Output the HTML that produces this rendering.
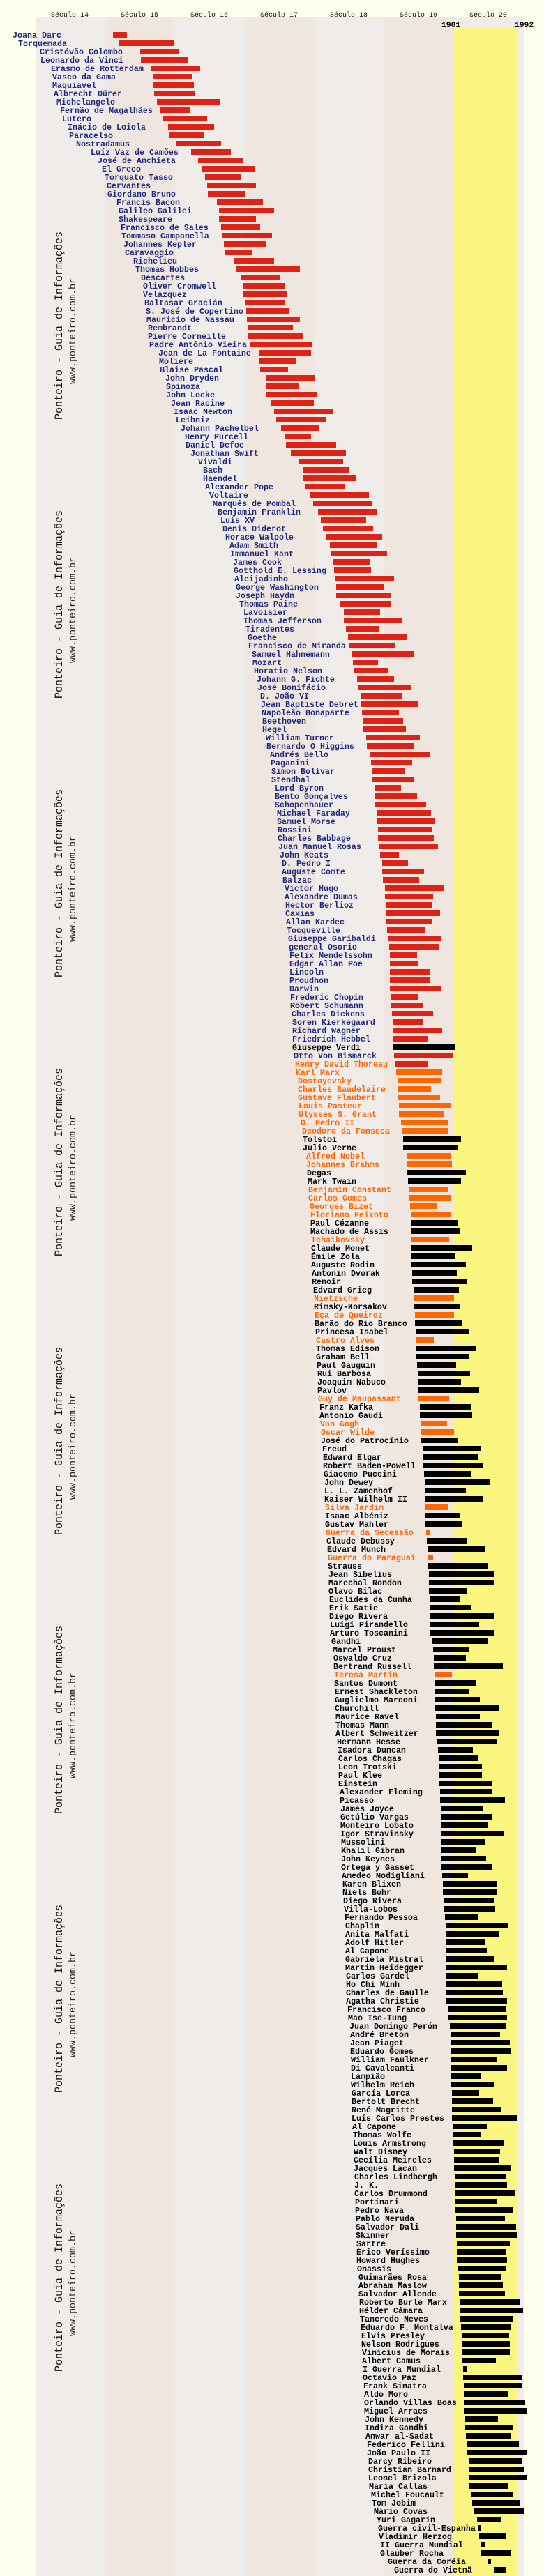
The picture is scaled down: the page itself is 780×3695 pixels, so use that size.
<!DOCTYPE html>
<html><head><meta charset="utf-8"><style>
html,body{margin:0;padding:0;background:#ffffee;}
svg{display:block}
.L text{font-family:"Liberation Mono","DejaVu Sans Mono",monospace;font-weight:bold;font-size:11.67px;fill:#1f2a80}
.L text.o{fill:#ff6600}.L text.k{fill:#000}
.H{font-family:"Liberation Mono","DejaVu Sans Mono",monospace;font-size:10px;fill:#111}
.Y{font-family:"Liberation Mono","DejaVu Sans Mono",monospace;font-size:11.3px;font-weight:bold;fill:#000}
.W1{font-family:"Liberation Mono","DejaVu Sans Mono",monospace;font-size:16px;fill:#111}
.W2{font-family:"Liberation Mono","DejaVu Sans Mono",monospace;font-size:13.5px;fill:#222}
</style></head><body>
<svg width="780" height="3695" viewBox="0 0 780 3695" xmlns="http://www.w3.org/2000/svg">
<rect x="0" y="0" width="780" height="3695" fill="#ffffee"/>
<rect x="51" y="25" width="100" height="3670" fill="#f0ecea"/>
<rect x="151" y="25" width="100" height="3670" fill="#efe6e0"/>
<rect x="251" y="25" width="100" height="3670" fill="#f0ecea"/>
<rect x="351" y="25" width="100" height="3670" fill="#efe6e0"/>
<rect x="451" y="25" width="100" height="3670" fill="#f0ecea"/>
<rect x="551" y="25" width="100" height="3670" fill="#efe6e0"/>
<rect x="651" y="25" width="100" height="3670" fill="#f0ecea"/>
<rect x="651" y="40" width="92" height="3655" fill="#faf680"/>
<text class="H" x="73" y="24">Século 14</text>
<text class="H" x="173" y="24">Século 15</text>
<text class="H" x="273" y="24">Século 16</text>
<text class="H" x="373" y="24">Século 17</text>
<text class="H" x="473" y="24">Século 18</text>
<text class="H" x="573" y="24">Século 19</text>
<text class="H" x="673" y="24">Século 20</text>
<text class="Y" x="633" y="39">1901</text>
<text class="Y" x="738" y="39">1992</text>
<g>
<text class="W1" transform="translate(89 467) rotate(-90)" text-anchor="middle" textLength="270" lengthAdjust="spacingAndGlyphs">Ponteiro - Guia de Informações</text>
<text class="W2" transform="translate(108 475) rotate(-90)" text-anchor="middle" textLength="152" lengthAdjust="spacingAndGlyphs">www.ponteiro.com.br</text>
<text class="W1" transform="translate(89 867) rotate(-90)" text-anchor="middle" textLength="270" lengthAdjust="spacingAndGlyphs">Ponteiro - Guia de Informações</text>
<text class="W2" transform="translate(108 875) rotate(-90)" text-anchor="middle" textLength="152" lengthAdjust="spacingAndGlyphs">www.ponteiro.com.br</text>
<text class="W1" transform="translate(89 1267) rotate(-90)" text-anchor="middle" textLength="270" lengthAdjust="spacingAndGlyphs">Ponteiro - Guia de Informações</text>
<text class="W2" transform="translate(108 1275) rotate(-90)" text-anchor="middle" textLength="152" lengthAdjust="spacingAndGlyphs">www.ponteiro.com.br</text>
<text class="W1" transform="translate(89 1667) rotate(-90)" text-anchor="middle" textLength="270" lengthAdjust="spacingAndGlyphs">Ponteiro - Guia de Informações</text>
<text class="W2" transform="translate(108 1675) rotate(-90)" text-anchor="middle" textLength="152" lengthAdjust="spacingAndGlyphs">www.ponteiro.com.br</text>
<text class="W1" transform="translate(89 2067) rotate(-90)" text-anchor="middle" textLength="270" lengthAdjust="spacingAndGlyphs">Ponteiro - Guia de Informações</text>
<text class="W2" transform="translate(108 2075) rotate(-90)" text-anchor="middle" textLength="152" lengthAdjust="spacingAndGlyphs">www.ponteiro.com.br</text>
<text class="W1" transform="translate(89 2467) rotate(-90)" text-anchor="middle" textLength="270" lengthAdjust="spacingAndGlyphs">Ponteiro - Guia de Informações</text>
<text class="W2" transform="translate(108 2475) rotate(-90)" text-anchor="middle" textLength="152" lengthAdjust="spacingAndGlyphs">www.ponteiro.com.br</text>
<text class="W1" transform="translate(89 2867) rotate(-90)" text-anchor="middle" textLength="270" lengthAdjust="spacingAndGlyphs">Ponteiro - Guia de Informações</text>
<text class="W2" transform="translate(108 2875) rotate(-90)" text-anchor="middle" textLength="152" lengthAdjust="spacingAndGlyphs">www.ponteiro.com.br</text>
<text class="W1" transform="translate(89 3267) rotate(-90)" text-anchor="middle" textLength="270" lengthAdjust="spacingAndGlyphs">Ponteiro - Guia de Informações</text>
<text class="W2" transform="translate(108 3275) rotate(-90)" text-anchor="middle" textLength="152" lengthAdjust="spacingAndGlyphs">www.ponteiro.com.br</text>
</g>
<g fill="#de2216">
<rect x="162" y="46" width="20" height="8"/>
<rect x="170" y="58" width="79" height="8"/>
<rect x="201" y="70" width="56" height="8"/>
<rect x="202" y="82" width="68" height="8"/>
<rect x="217" y="94" width="70" height="8"/>
<rect x="219" y="106" width="56" height="8"/>
<rect x="219" y="118" width="59" height="8"/>
<rect x="221" y="130" width="58" height="8"/>
<rect x="225" y="142" width="90" height="8"/>
<rect x="230" y="154" width="42" height="8"/>
<rect x="233" y="166" width="64" height="8"/>
<rect x="241" y="178" width="66" height="8"/>
<rect x="243" y="190" width="49" height="8"/>
<rect x="253" y="202" width="64" height="8"/>
<rect x="274" y="214" width="57" height="8"/>
<rect x="284" y="226" width="64" height="8"/>
<rect x="290" y="238" width="75" height="8"/>
<rect x="294" y="250" width="52" height="8"/>
<rect x="297" y="262" width="70" height="8"/>
<rect x="298" y="274" width="53" height="8"/>
<rect x="311" y="286" width="66" height="8"/>
<rect x="314" y="298" width="79" height="8"/>
<rect x="314" y="310" width="53" height="8"/>
<rect x="317" y="322" width="56" height="8"/>
<rect x="318" y="334" width="72" height="8"/>
<rect x="321" y="346" width="60" height="8"/>
<rect x="323" y="358" width="38" height="8"/>
<rect x="335" y="370" width="58" height="8"/>
<rect x="338" y="382" width="92" height="8"/>
<rect x="346" y="394" width="55" height="8"/>
<rect x="349" y="406" width="60" height="8"/>
<rect x="349" y="418" width="62" height="8"/>
<rect x="351" y="430" width="58" height="8"/>
<rect x="353" y="442" width="61" height="8"/>
<rect x="354" y="454" width="76" height="8"/>
<rect x="356" y="466" width="64" height="8"/>
<rect x="356" y="478" width="79" height="8"/>
<rect x="358" y="490" width="90" height="8"/>
<rect x="371" y="502" width="75" height="8"/>
<rect x="372" y="514" width="52" height="8"/>
<rect x="373" y="526" width="40" height="8"/>
<rect x="381" y="538" width="70" height="8"/>
<rect x="382" y="550" width="46" height="8"/>
<rect x="382" y="562" width="73" height="8"/>
<rect x="389" y="574" width="61" height="8"/>
<rect x="393" y="586" width="85" height="8"/>
<rect x="396" y="598" width="71" height="8"/>
<rect x="403" y="610" width="54" height="8"/>
<rect x="409" y="622" width="37" height="8"/>
<rect x="410" y="634" width="72" height="8"/>
<rect x="417" y="646" width="79" height="8"/>
<rect x="428" y="658" width="64" height="8"/>
<rect x="435" y="670" width="66" height="8"/>
<rect x="435" y="682" width="75" height="8"/>
<rect x="438" y="694" width="57" height="8"/>
<rect x="444" y="706" width="85" height="8"/>
<rect x="449" y="718" width="84" height="8"/>
<rect x="456" y="730" width="85" height="8"/>
<rect x="460" y="742" width="65" height="8"/>
<rect x="463" y="754" width="72" height="8"/>
<rect x="467" y="766" width="81" height="8"/>
<rect x="473" y="778" width="68" height="8"/>
<rect x="474" y="790" width="81" height="8"/>
<rect x="478" y="802" width="52" height="8"/>
<rect x="479" y="814" width="53" height="8"/>
<rect x="480" y="826" width="85" height="8"/>
<rect x="482" y="838" width="68" height="8"/>
<rect x="482" y="850" width="78" height="8"/>
<rect x="487" y="862" width="73" height="8"/>
<rect x="493" y="874" width="52" height="8"/>
<rect x="493" y="886" width="84" height="8"/>
<rect x="496" y="898" width="47" height="8"/>
<rect x="499" y="910" width="84" height="8"/>
<rect x="500" y="922" width="67" height="8"/>
<rect x="505" y="934" width="89" height="8"/>
<rect x="506" y="946" width="36" height="8"/>
<rect x="508" y="958" width="48" height="8"/>
<rect x="512" y="970" width="53" height="8"/>
<rect x="513" y="982" width="76" height="8"/>
<rect x="517" y="994" width="60" height="8"/>
<rect x="518" y="1006" width="81" height="8"/>
<rect x="519" y="1018" width="53" height="8"/>
<rect x="520" y="1030" width="58" height="8"/>
<rect x="520" y="1042" width="62" height="8"/>
<rect x="525" y="1054" width="77" height="8"/>
<rect x="526" y="1066" width="67" height="8"/>
<rect x="531" y="1078" width="85" height="8"/>
<rect x="532" y="1090" width="59" height="8"/>
<rect x="533" y="1102" width="48" height="8"/>
<rect x="533" y="1114" width="60" height="8"/>
<rect x="538" y="1126" width="37" height="8"/>
<rect x="538" y="1138" width="60" height="8"/>
<rect x="538" y="1150" width="73" height="8"/>
<rect x="541" y="1162" width="77" height="8"/>
<rect x="541" y="1174" width="82" height="8"/>
<rect x="542" y="1186" width="77" height="8"/>
<rect x="542" y="1198" width="80" height="8"/>
<rect x="543" y="1210" width="85" height="8"/>
<rect x="545" y="1222" width="27" height="8"/>
<rect x="548" y="1234" width="37" height="8"/>
<rect x="548" y="1246" width="60" height="8"/>
<rect x="549" y="1258" width="52" height="8"/>
<rect x="552" y="1270" width="84" height="8"/>
<rect x="552" y="1282" width="69" height="8"/>
<rect x="553" y="1294" width="67" height="8"/>
<rect x="553" y="1306" width="78" height="8"/>
<rect x="554" y="1318" width="66" height="8"/>
<rect x="555" y="1330" width="55" height="8"/>
<rect x="557" y="1342" width="76" height="8"/>
<rect x="558" y="1354" width="72" height="8"/>
<rect x="559" y="1366" width="39" height="8"/>
<rect x="559" y="1378" width="41" height="8"/>
<rect x="559" y="1390" width="57" height="8"/>
<rect x="559" y="1402" width="57" height="8"/>
<rect x="559" y="1414" width="74" height="8"/>
<rect x="560" y="1426" width="40" height="8"/>
<rect x="560" y="1438" width="47" height="8"/>
<rect x="562" y="1450" width="59" height="8"/>
<rect x="563" y="1462" width="43" height="8"/>
<rect x="563" y="1474" width="71" height="8"/>
<rect x="563" y="1486" width="51" height="8"/>
<rect x="565" y="1510" width="84" height="8"/>
<rect x="567" y="1522" width="46" height="8"/>
</g>
<g fill="#ff6600">
<rect x="568" y="1534" width="66" height="8"/>
<rect x="571" y="1546" width="61" height="8"/>
<rect x="571" y="1558" width="47" height="8"/>
<rect x="571" y="1570" width="60" height="8"/>
<rect x="572" y="1582" width="74" height="8"/>
<rect x="572" y="1594" width="64" height="8"/>
<rect x="575" y="1606" width="67" height="8"/>
<rect x="577" y="1618" width="66" height="8"/>
<rect x="583" y="1654" width="64" height="8"/>
<rect x="583" y="1666" width="65" height="8"/>
<rect x="586" y="1702" width="56" height="8"/>
<rect x="586" y="1714" width="61" height="8"/>
<rect x="588" y="1726" width="38" height="8"/>
<rect x="589" y="1738" width="57" height="8"/>
<rect x="590" y="1774" width="54" height="8"/>
<rect x="594" y="1858" width="57" height="8"/>
<rect x="595" y="1882" width="56" height="8"/>
<rect x="597" y="1918" width="25" height="8"/>
<rect x="600" y="2002" width="44" height="8"/>
<rect x="603" y="2038" width="38" height="8"/>
<rect x="604" y="2050" width="47" height="8"/>
<rect x="610" y="2158" width="32" height="8"/>
<rect x="611" y="2194" width="5" height="8"/>
<rect x="614" y="2230" width="7" height="8"/>
<rect x="623" y="2398" width="25" height="8"/>
</g>
<g fill="#000">
<rect x="563" y="1498" width="89" height="8"/>
<rect x="578" y="1630" width="83" height="8"/>
<rect x="578" y="1642" width="78" height="8"/>
<rect x="584" y="1678" width="84" height="8"/>
<rect x="585" y="1690" width="76" height="8"/>
<rect x="589" y="1750" width="68" height="8"/>
<rect x="589" y="1762" width="70" height="8"/>
<rect x="590" y="1786" width="87" height="8"/>
<rect x="590" y="1798" width="63" height="8"/>
<rect x="590" y="1810" width="78" height="8"/>
<rect x="591" y="1822" width="64" height="8"/>
<rect x="591" y="1834" width="79" height="8"/>
<rect x="593" y="1846" width="65" height="8"/>
<rect x="594" y="1870" width="65" height="8"/>
<rect x="595" y="1894" width="68" height="8"/>
<rect x="596" y="1906" width="76" height="8"/>
<rect x="597" y="1930" width="85" height="8"/>
<rect x="597" y="1942" width="76" height="8"/>
<rect x="598" y="1954" width="56" height="8"/>
<rect x="599" y="1966" width="75" height="8"/>
<rect x="599" y="1978" width="62" height="8"/>
<rect x="599" y="1990" width="88" height="8"/>
<rect x="602" y="2014" width="73" height="8"/>
<rect x="602" y="2026" width="75" height="8"/>
<rect x="604" y="2062" width="52" height="8"/>
<rect x="606" y="2074" width="84" height="8"/>
<rect x="607" y="2086" width="78" height="8"/>
<rect x="607" y="2098" width="85" height="8"/>
<rect x="608" y="2110" width="67" height="8"/>
<rect x="609" y="2122" width="94" height="8"/>
<rect x="609" y="2134" width="59" height="8"/>
<rect x="609" y="2146" width="83" height="8"/>
<rect x="610" y="2170" width="50" height="8"/>
<rect x="610" y="2182" width="52" height="8"/>
<rect x="612" y="2206" width="57" height="8"/>
<rect x="613" y="2218" width="82" height="8"/>
<rect x="614" y="2242" width="86" height="8"/>
<rect x="615" y="2254" width="93" height="8"/>
<rect x="615" y="2266" width="94" height="8"/>
<rect x="615" y="2278" width="54" height="8"/>
<rect x="616" y="2290" width="44" height="8"/>
<rect x="616" y="2302" width="60" height="8"/>
<rect x="616" y="2314" width="92" height="8"/>
<rect x="617" y="2326" width="70" height="8"/>
<rect x="617" y="2338" width="91" height="8"/>
<rect x="619" y="2350" width="80" height="8"/>
<rect x="621" y="2362" width="52" height="8"/>
<rect x="622" y="2374" width="46" height="8"/>
<rect x="622" y="2386" width="99" height="8"/>
<rect x="623" y="2410" width="60" height="8"/>
<rect x="624" y="2422" width="49" height="8"/>
<rect x="624" y="2434" width="64" height="8"/>
<rect x="624" y="2446" width="92" height="8"/>
<rect x="625" y="2458" width="63" height="8"/>
<rect x="625" y="2470" width="81" height="8"/>
<rect x="625" y="2482" width="91" height="8"/>
<rect x="627" y="2494" width="86" height="8"/>
<rect x="628" y="2506" width="50" height="8"/>
<rect x="629" y="2518" width="56" height="8"/>
<rect x="629" y="2530" width="62" height="8"/>
<rect x="629" y="2542" width="62" height="8"/>
<rect x="629" y="2554" width="77" height="8"/>
<rect x="631" y="2566" width="75" height="8"/>
<rect x="631" y="2578" width="93" height="8"/>
<rect x="632" y="2590" width="60" height="8"/>
<rect x="632" y="2602" width="73" height="8"/>
<rect x="632" y="2614" width="67" height="8"/>
<rect x="632" y="2626" width="90" height="8"/>
<rect x="633" y="2638" width="63" height="8"/>
<rect x="633" y="2650" width="49" height="8"/>
<rect x="633" y="2662" width="64" height="8"/>
<rect x="633" y="2674" width="73" height="8"/>
<rect x="634" y="2686" width="37" height="8"/>
<rect x="635" y="2698" width="78" height="8"/>
<rect x="635" y="2710" width="78" height="8"/>
<rect x="636" y="2722" width="72" height="8"/>
<rect x="637" y="2734" width="73" height="8"/>
<rect x="638" y="2746" width="48" height="8"/>
<rect x="639" y="2758" width="89" height="8"/>
<rect x="639" y="2770" width="76" height="8"/>
<rect x="639" y="2782" width="57" height="8"/>
<rect x="639" y="2794" width="59" height="8"/>
<rect x="639" y="2806" width="69" height="8"/>
<rect x="639" y="2818" width="88" height="8"/>
<rect x="640" y="2830" width="46" height="8"/>
<rect x="640" y="2842" width="80" height="8"/>
<rect x="640" y="2854" width="81" height="8"/>
<rect x="640" y="2866" width="87" height="8"/>
<rect x="642" y="2878" width="84" height="8"/>
<rect x="643" y="2890" width="84" height="8"/>
<rect x="645" y="2902" width="80" height="8"/>
<rect x="646" y="2914" width="71" height="8"/>
<rect x="646" y="2926" width="85" height="8"/>
<rect x="646" y="2938" width="86" height="8"/>
<rect x="647" y="2950" width="66" height="8"/>
<rect x="647" y="2962" width="80" height="8"/>
<rect x="647" y="2974" width="42" height="8"/>
<rect x="647" y="2986" width="61" height="8"/>
<rect x="648" y="2998" width="39" height="8"/>
<rect x="648" y="3010" width="59" height="8"/>
<rect x="648" y="3022" width="70" height="8"/>
<rect x="648" y="3034" width="93" height="8"/>
<rect x="649" y="3046" width="49" height="8"/>
<rect x="650" y="3058" width="39" height="8"/>
<rect x="650" y="3070" width="72" height="8"/>
<rect x="651" y="3082" width="66" height="8"/>
<rect x="651" y="3094" width="64" height="8"/>
<rect x="651" y="3106" width="81" height="8"/>
<rect x="652" y="3118" width="73" height="8"/>
<rect x="652" y="3130" width="75" height="8"/>
<rect x="652" y="3142" width="86" height="8"/>
<rect x="653" y="3154" width="60" height="8"/>
<rect x="653" y="3166" width="82" height="8"/>
<rect x="654" y="3178" width="70" height="8"/>
<rect x="654" y="3190" width="86" height="8"/>
<rect x="654" y="3202" width="87" height="8"/>
<rect x="655" y="3214" width="76" height="8"/>
<rect x="655" y="3226" width="71" height="8"/>
<rect x="655" y="3238" width="72" height="8"/>
<rect x="656" y="3250" width="70" height="8"/>
<rect x="658" y="3262" width="60" height="8"/>
<rect x="658" y="3274" width="63" height="8"/>
<rect x="658" y="3286" width="66" height="8"/>
<rect x="659" y="3298" width="86" height="8"/>
<rect x="659" y="3310" width="91" height="8"/>
<rect x="660" y="3322" width="76" height="8"/>
<rect x="661" y="3334" width="72" height="8"/>
<rect x="662" y="3346" width="68" height="8"/>
<rect x="662" y="3358" width="69" height="8"/>
<rect x="663" y="3370" width="68" height="8"/>
<rect x="663" y="3382" width="48" height="8"/>
<rect x="664" y="3394" width="5" height="8"/>
<rect x="664" y="3406" width="85" height="8"/>
<rect x="665" y="3418" width="84" height="8"/>
<rect x="666" y="3430" width="63" height="8"/>
<rect x="666" y="3442" width="87" height="8"/>
<rect x="666" y="3454" width="90" height="8"/>
<rect x="667" y="3466" width="47" height="8"/>
<rect x="667" y="3478" width="68" height="8"/>
<rect x="668" y="3490" width="64" height="8"/>
<rect x="670" y="3502" width="74" height="8"/>
<rect x="670" y="3514" width="86" height="8"/>
<rect x="672" y="3526" width="76" height="8"/>
<rect x="672" y="3538" width="80" height="8"/>
<rect x="672" y="3550" width="83" height="8"/>
<rect x="673" y="3562" width="55" height="8"/>
<rect x="676" y="3574" width="59" height="8"/>
<rect x="677" y="3586" width="68" height="8"/>
<rect x="680" y="3598" width="72" height="8"/>
<rect x="684" y="3610" width="35" height="8"/>
<rect x="686" y="3622" width="4" height="8"/>
<rect x="687" y="3634" width="39" height="8"/>
<rect x="689" y="3646" width="7" height="8"/>
<rect x="689" y="3658" width="43" height="8"/>
<rect x="700" y="3670" width="4" height="8"/>
<rect x="709" y="3682" width="17" height="8"/>
</g>
<g class="L">
<text x="18" y="54">Joana Darc</text>
<text x="26" y="66">Torquemada</text>
<text x="57" y="78">Cristóvão Colombo</text>
<text x="58" y="90">Leonardo da Vinci</text>
<text x="73" y="102">Erasmo de Rotterdam</text>
<text x="75" y="114">Vasco da Gama</text>
<text x="75" y="126">Maquiavel</text>
<text x="77" y="138">Albrecht Dürer</text>
<text x="81" y="150">Michelangelo</text>
<text x="86" y="162">Fernão de Magalhães</text>
<text x="89" y="174">Lutero</text>
<text x="97" y="186">Inácio de Loiola</text>
<text x="99" y="198">Paracelso</text>
<text x="109" y="210">Nostradamus</text>
<text x="130" y="222">Luíz Vaz de Camões</text>
<text x="140" y="234">José de Anchieta</text>
<text x="146" y="246">El Greco</text>
<text x="150" y="258">Torquato Tasso</text>
<text x="153" y="270">Cervantes</text>
<text x="154" y="282">Giordano Bruno</text>
<text x="167" y="294">Francis Bacon</text>
<text x="170" y="306">Galileo Galilei</text>
<text x="170" y="318">Shakespeare</text>
<text x="173" y="330">Francisco de Sales</text>
<text x="174" y="342">Tommaso Campanella</text>
<text x="177" y="354">Johannes Kepler</text>
<text x="179" y="366">Caravaggio</text>
<text x="191" y="378">Richelieu</text>
<text x="194" y="390">Thomas Hobbes</text>
<text x="202" y="402">Descartes</text>
<text x="205" y="414">Oliver Cromwell</text>
<text x="205" y="426">Velázquez</text>
<text x="207" y="438">Baltasar Gracián</text>
<text x="209" y="450">S. José de Copertino</text>
<text x="210" y="462">Mauricio de Nassau</text>
<text x="212" y="474">Rembrandt</text>
<text x="212" y="486">Pierre Corneille</text>
<text x="214" y="498">Padre Antônio Vieira</text>
<text x="227" y="510">Jean de La Fontaine</text>
<text x="228" y="522">Moliére</text>
<text x="229" y="534">Blaise Pascal</text>
<text x="237" y="546">John Dryden</text>
<text x="238" y="558">Spinoza</text>
<text x="238" y="570">John Locke</text>
<text x="245" y="582">Jean Racine</text>
<text x="249" y="594">Isaac Newton</text>
<text x="252" y="606">Leibniz</text>
<text x="259" y="618">Johann Pachelbel</text>
<text x="265" y="630">Henry Purcell</text>
<text x="266" y="642">Daniel Defoe</text>
<text x="273" y="654">Jonathan Swift</text>
<text x="284" y="666">Vivaldi</text>
<text x="291" y="678">Bach</text>
<text x="291" y="690">Haendel</text>
<text x="294" y="702">Alexander Pope</text>
<text x="300" y="714">Voltaire</text>
<text x="305" y="726">Marquês de Pombal</text>
<text x="312" y="738">Benjamin Franklin</text>
<text x="316" y="750">Luís XV</text>
<text x="319" y="762">Denis Diderot</text>
<text x="323" y="774">Horace Walpole</text>
<text x="329" y="786">Adam Smith</text>
<text x="330" y="798">Immanuel Kant</text>
<text x="334" y="810">James Cook</text>
<text x="335" y="822">Gotthold E. Lessing</text>
<text x="336" y="834">Aleijadinho</text>
<text x="338" y="846">George Washington</text>
<text x="338" y="858">Joseph Haydn</text>
<text x="343" y="870">Thomas Paine</text>
<text x="349" y="882">Lavoisier</text>
<text x="349" y="894">Thomas Jefferson</text>
<text x="352" y="906">Tiradentes</text>
<text x="355" y="918">Goethe</text>
<text x="356" y="930">Francisco de Miranda</text>
<text x="361" y="942">Samuel Hahnemann</text>
<text x="362" y="954">Mozart</text>
<text x="364" y="966">Horatio Nelson</text>
<text x="368" y="978">Johann G. Fichte</text>
<text x="369" y="990">José Bonifácio</text>
<text x="373" y="1002">D. João VI</text>
<text x="374" y="1014">Jean Baptiste Debret</text>
<text x="375" y="1026">Napoleão Bonaparte</text>
<text x="376" y="1038">Beethoven</text>
<text x="376" y="1050">Hegel</text>
<text x="381" y="1062">William Turner</text>
<text x="382" y="1074">Bernardo O Higgins</text>
<text x="387" y="1086">Andrés Bello</text>
<text x="388" y="1098">Paganini</text>
<text x="389" y="1110">Simon Bolívar</text>
<text x="389" y="1122">Stendhal</text>
<text x="394" y="1134">Lord Byron</text>
<text x="394" y="1146">Bento Gonçalves</text>
<text x="394" y="1158">Schopenhauer</text>
<text x="397" y="1170">Michael Faraday</text>
<text x="397" y="1182">Samuel Morse</text>
<text x="398" y="1194">Rossini</text>
<text x="398" y="1206">Charles Babbage</text>
<text x="399" y="1218">Juan Manuel Rosas</text>
<text x="401" y="1230">John Keats</text>
<text x="404" y="1242">D. Pedro I</text>
<text x="404" y="1254">Auguste Comte</text>
<text x="405" y="1266">Balzac</text>
<text x="408" y="1278">Victor Hugo</text>
<text x="408" y="1290">Alexandre Dumas</text>
<text x="409" y="1302">Hector Berlioz</text>
<text x="409" y="1314">Caxias</text>
<text x="410" y="1326">Allan Kardec</text>
<text x="411" y="1338">Tocqueville</text>
<text x="413" y="1350">Giuseppe Garibaldi</text>
<text x="414" y="1362">general Osorio</text>
<text x="415" y="1374">Felix Mendelssohn</text>
<text x="415" y="1386">Edgar Allan Poe</text>
<text x="415" y="1398">Lincoln</text>
<text x="415" y="1410">Proudhon</text>
<text x="415" y="1422">Darwin</text>
<text x="416" y="1434">Frederic Chopin</text>
<text x="416" y="1446">Robert Schumann</text>
<text x="418" y="1458">Charles Dickens</text>
<text x="419" y="1470">Soren Kierkegaard</text>
<text x="419" y="1482">Richard Wagner</text>
<text x="419" y="1494">Friedrich Hebbel</text>
<text class="k" x="419" y="1506">Giuseppe Verdi</text>
<text x="421" y="1518">Otto Von Bismarck</text>
<text class="o" x="423" y="1530">Henry David Thoreau</text>
<text class="o" x="424" y="1542">Karl Marx</text>
<text class="o" x="427" y="1554">Dostoyevsky</text>
<text class="o" x="427" y="1566">Charles Baudelaire</text>
<text class="o" x="427" y="1578">Gustave Flaubert</text>
<text class="o" x="428" y="1590">Louis Pasteur</text>
<text class="o" x="428" y="1602">Ulysses S. Grant</text>
<text class="o" x="431" y="1614">D. Pedro II</text>
<text class="o" x="433" y="1626">Deodoro da Fonseca</text>
<text class="k" x="434" y="1638">Tolstoi</text>
<text class="k" x="434" y="1650">Julio Verne</text>
<text class="o" x="439" y="1662">Alfred Nobel</text>
<text class="o" x="439" y="1674">Johannes Brahms</text>
<text class="k" x="440" y="1686">Degas</text>
<text class="k" x="441" y="1698">Mark Twain</text>
<text class="o" x="442" y="1710">Benjamin Constant</text>
<text class="o" x="442" y="1722">Carlos Gomes</text>
<text class="o" x="444" y="1734">Georges Bizet</text>
<text class="o" x="445" y="1746">Floriano Peixoto</text>
<text class="k" x="445" y="1758">Paul Cézanne</text>
<text class="k" x="445" y="1770">Machado de Assis</text>
<text class="o" x="446" y="1782">Tchaikovsky</text>
<text class="k" x="446" y="1794">Claude Monet</text>
<text class="k" x="446" y="1806">Émile Zola</text>
<text class="k" x="446" y="1818">Auguste Rodin</text>
<text class="k" x="447" y="1830">Antonin Dvorak</text>
<text class="k" x="447" y="1842">Renoir</text>
<text class="k" x="449" y="1854">Edvard Grieg</text>
<text class="o" x="450" y="1866">Nietzsche</text>
<text class="k" x="450" y="1878">Rimsky-Korsakov</text>
<text class="o" x="451" y="1890">Eça de Queiroz</text>
<text class="k" x="451" y="1902">Barão do Rio Branco</text>
<text class="k" x="452" y="1914">Princesa Isabel</text>
<text class="o" x="453" y="1926">Castro Alves</text>
<text class="k" x="453" y="1938">Thomas Edison</text>
<text class="k" x="453" y="1950">Graham Bell</text>
<text class="k" x="454" y="1962">Paul Gauguin</text>
<text class="k" x="455" y="1974">Rui Barbosa</text>
<text class="k" x="455" y="1986">Joaquim Nabuco</text>
<text class="k" x="455" y="1998">Pavlov</text>
<text class="o" x="456" y="2010">Guy de Maupassant</text>
<text class="k" x="458" y="2022">Franz Kafka</text>
<text class="k" x="458" y="2034">Antonio Gaudí</text>
<text class="o" x="459" y="2046">Van Gogh</text>
<text class="o" x="460" y="2058">Oscar Wilde</text>
<text class="k" x="460" y="2070">José do Patrocínio</text>
<text class="k" x="462" y="2082">Freud</text>
<text class="k" x="463" y="2094">Edward Elgar</text>
<text class="k" x="463" y="2106">Robert Baden-Powell</text>
<text class="k" x="464" y="2118">Giacomo Puccini</text>
<text class="k" x="465" y="2130">John Dewey</text>
<text class="k" x="465" y="2142">L. L. Zamenhof</text>
<text class="k" x="465" y="2154">Kaiser Wilhelm II</text>
<text class="o" x="466" y="2166">Silva Jardim</text>
<text class="k" x="466" y="2178">Isaac Albéniz</text>
<text class="k" x="466" y="2190">Gustav Mahler</text>
<text class="o" x="467" y="2202">Guerra da Secessão</text>
<text class="k" x="468" y="2214">Claude Debussy</text>
<text class="k" x="469" y="2226">Edvard Munch</text>
<text class="o" x="470" y="2238">Guerra do Paraguai</text>
<text class="k" x="470" y="2250">Strauss</text>
<text class="k" x="471" y="2262">Jean Sibelius</text>
<text class="k" x="471" y="2274">Marechal Rondon</text>
<text class="k" x="471" y="2286">Olavo Bilac</text>
<text class="k" x="472" y="2298">Euclides da Cunha</text>
<text class="k" x="472" y="2310">Erik Satie</text>
<text class="k" x="472" y="2322">Diego Rivera</text>
<text class="k" x="473" y="2334">Luigi Pirandello</text>
<text class="k" x="473" y="2346">Arturo Toscanini</text>
<text class="k" x="475" y="2358">Gandhi</text>
<text class="k" x="477" y="2370">Marcel Proust</text>
<text class="k" x="478" y="2382">Oswaldo Cruz</text>
<text class="k" x="478" y="2394">Bertrand Russell</text>
<text class="o" x="479" y="2406">Teresa Martin</text>
<text class="k" x="479" y="2418">Santos Dumont</text>
<text class="k" x="480" y="2430">Ernest Shackleton</text>
<text class="k" x="480" y="2442">Guglielmo Marconi</text>
<text class="k" x="480" y="2454">Churchill</text>
<text class="k" x="481" y="2466">Maurice Ravel</text>
<text class="k" x="481" y="2478">Thomas Mann</text>
<text class="k" x="481" y="2490">Albert Schweitzer</text>
<text class="k" x="483" y="2502">Hermann Hesse</text>
<text class="k" x="484" y="2514">Isadora Duncan</text>
<text class="k" x="485" y="2526">Carlos Chagas</text>
<text class="k" x="485" y="2538">Leon Trotski</text>
<text class="k" x="485" y="2550">Paul Klee</text>
<text class="k" x="485" y="2562">Einstein</text>
<text class="k" x="487" y="2574">Alexander Fleming</text>
<text class="k" x="487" y="2586">Picasso</text>
<text class="k" x="488" y="2598">James Joyce</text>
<text class="k" x="488" y="2610">Getúlio Vargas</text>
<text class="k" x="488" y="2622">Monteiro Lobato</text>
<text class="k" x="488" y="2634">Igor Stravinsky</text>
<text class="k" x="489" y="2646">Mussolini</text>
<text class="k" x="489" y="2658">Khalil Gibran</text>
<text class="k" x="489" y="2670">John Keynes</text>
<text class="k" x="489" y="2682">Ortega y Gasset</text>
<text class="k" x="490" y="2694">Amedeo Modigliani</text>
<text class="k" x="491" y="2706">Karen Blixen</text>
<text class="k" x="491" y="2718">Niels Bohr</text>
<text class="k" x="492" y="2730">Diego Rivera</text>
<text class="k" x="493" y="2742">Villa-Lobos</text>
<text class="k" x="494" y="2754">Fernando Pessoa</text>
<text class="k" x="495" y="2766">Chaplin</text>
<text class="k" x="495" y="2778">Anita Malfati</text>
<text class="k" x="495" y="2790">Adolf Hitler</text>
<text class="k" x="495" y="2802">Al Capone</text>
<text class="k" x="495" y="2814">Gabriela Mistral</text>
<text class="k" x="495" y="2826">Martin Heidegger</text>
<text class="k" x="496" y="2838">Carlos Gardel</text>
<text class="k" x="496" y="2850">Ho Chi Minh</text>
<text class="k" x="496" y="2862">Charles de Gaulle</text>
<text class="k" x="496" y="2874">Agatha Christie</text>
<text class="k" x="498" y="2886">Francisco Franco</text>
<text class="k" x="499" y="2898">Mao Tse-Tung</text>
<text class="k" x="501" y="2910">Juan Domingo Perón</text>
<text class="k" x="502" y="2922">André Breton</text>
<text class="k" x="502" y="2934">Jean Piaget</text>
<text class="k" x="502" y="2946">Eduardo Gomes</text>
<text class="k" x="503" y="2958">William Faulkner</text>
<text class="k" x="503" y="2970">Di Cavalcanti</text>
<text class="k" x="503" y="2982">Lampião</text>
<text class="k" x="503" y="2994">Wilhelm Reich</text>
<text class="k" x="504" y="3006">García Lorca</text>
<text class="k" x="504" y="3018">Bertolt Brecht</text>
<text class="k" x="504" y="3030">René Magritte</text>
<text class="k" x="504" y="3042">Luís Carlos Prestes</text>
<text class="k" x="505" y="3054">Al Capone</text>
<text class="k" x="506" y="3066">Thomas Wolfe</text>
<text class="k" x="506" y="3078">Louis Armstrong</text>
<text class="k" x="507" y="3090">Walt Disney</text>
<text class="k" x="507" y="3102">Cecília Meireles</text>
<text class="k" x="507" y="3114">Jacques Lacan</text>
<text class="k" x="508" y="3126">Charles Lindbergh</text>
<text class="k" x="508" y="3138">J. K.</text>
<text class="k" x="508" y="3150">Carlos Drummond</text>
<text class="k" x="509" y="3162">Portinari</text>
<text class="k" x="509" y="3174">Pedro Nava</text>
<text class="k" x="510" y="3186">Pablo Neruda</text>
<text class="k" x="510" y="3198">Salvador Dali</text>
<text class="k" x="510" y="3210">Skinner</text>
<text class="k" x="511" y="3222">Sartre</text>
<text class="k" x="511" y="3234">Érico Veríssimo</text>
<text class="k" x="511" y="3246">Howard Hughes</text>
<text class="k" x="512" y="3258">Onassis</text>
<text class="k" x="514" y="3270">Guimarães Rosa</text>
<text class="k" x="514" y="3282">Abraham Maslow</text>
<text class="k" x="514" y="3294">Salvador Allende</text>
<text class="k" x="515" y="3306">Roberto Burle Marx</text>
<text class="k" x="515" y="3318">Hélder Câmara</text>
<text class="k" x="516" y="3330">Tancredo Neves</text>
<text class="k" x="517" y="3342">Eduardo F. Montalva</text>
<text class="k" x="518" y="3354">Elvis Presley</text>
<text class="k" x="518" y="3366">Nelson Rodrigues</text>
<text class="k" x="519" y="3378">Vinícius de Morais</text>
<text class="k" x="519" y="3390">Albert Camus</text>
<text class="k" x="520" y="3402">I Guerra Mundial</text>
<text class="k" x="520" y="3414">Octavio Paz</text>
<text class="k" x="521" y="3426">Frank Sinatra</text>
<text class="k" x="522" y="3438">Aldo Moro</text>
<text class="k" x="522" y="3450">Orlando Villas Boas</text>
<text class="k" x="522" y="3462">Miguel Arraes</text>
<text class="k" x="523" y="3474">John Kennedy</text>
<text class="k" x="523" y="3486">Indira Gandhi</text>
<text class="k" x="524" y="3498">Anwar al-Sadat</text>
<text class="k" x="526" y="3510">Federico Fellini</text>
<text class="k" x="526" y="3522">João Paulo II</text>
<text class="k" x="528" y="3534">Darcy Ribeiro</text>
<text class="k" x="528" y="3546">Christian Barnard</text>
<text class="k" x="528" y="3558">Leonel Brizola</text>
<text class="k" x="529" y="3570">Maria Callas</text>
<text class="k" x="532" y="3582">Michel Foucault</text>
<text class="k" x="533" y="3594">Tom Jobim</text>
<text class="k" x="536" y="3606">Mário Covas</text>
<text class="k" x="540" y="3618">Yuri Gagarin</text>
<text class="k" x="542" y="3630">Guerra civil-Espanha</text>
<text class="k" x="543" y="3642">Vladimir Herzog</text>
<text class="k" x="545" y="3654">II Guerra Mundial</text>
<text class="k" x="545" y="3666">Glauber Rocha</text>
<text class="k" x="556" y="3678">Guerra da Coréia</text>
<text class="k" x="565" y="3690">Guerra do Vietnã</text>
</g>
</svg>
</body></html>
